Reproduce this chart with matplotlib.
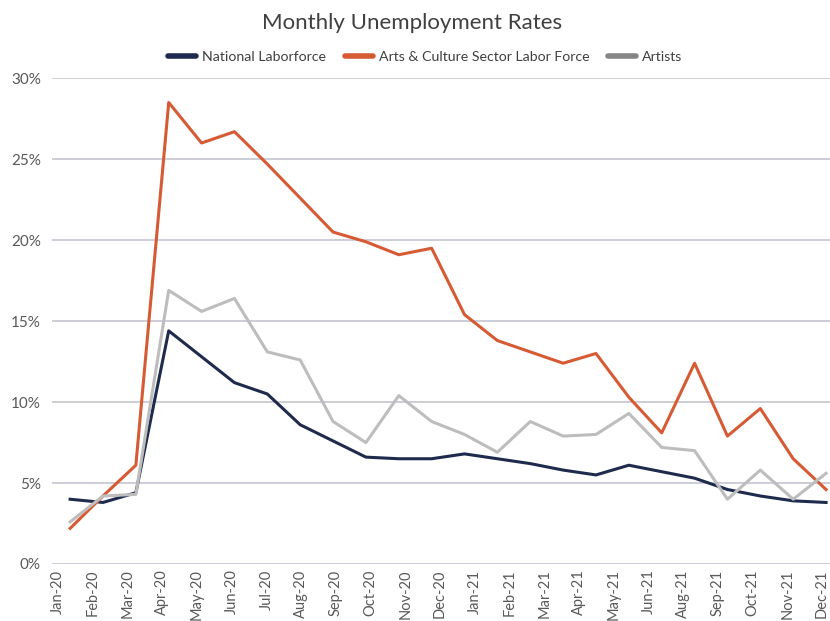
import numpy as np
import matplotlib.pyplot as plt
from matplotlib.lines import Line2D
from matplotlib.ticker import PercentFormatter

plt.rcParams['font.family'] = ['Lato', 'DejaVu Sans']

# monthly rates, Jan-20 .. Dec-21 (percent)
national = [4.0, 3.8, 4.4, 14.4, 12.8, 11.2, 10.5, 8.6, 7.6, 6.6, 6.5, 6.5,
            6.8, 6.5, 6.2, 5.8, 5.5, 6.1, 5.7, 5.3, 4.6, 4.2, 3.9, 3.8]
arts_culture = [2.2, 4.2, 6.1, 28.5, 26.0, 26.7, 24.7, 22.6, 20.5, 19.9, 19.1, 19.5,
                15.4, 13.8, 13.1, 12.4, 13.0, 10.3, 8.1, 12.4, 7.9, 9.6, 6.5, 4.6]
artists = [2.6, 4.2, 4.3, 16.9, 15.6, 16.4, 13.1, 12.6, 8.8, 7.5, 10.4, 8.8,
           8.0, 6.9, 8.8, 7.9, 8.0, 9.3, 7.2, 7.0, 4.0, 5.8, 4.0, 5.6]
month_labels = ['Jan-20', 'Feb-20', 'Mar-20', 'Apr-20', 'May-20', 'Jun-20',
                'Jul-20', 'Aug-20', 'Sep-20', 'Oct-20', 'Nov-20', 'Dec-20',
                'Jan-21', 'Feb-21', 'Mar-21', 'Apr-21', 'May-21', 'Jun-21',
                'Aug-21', 'Sep-21', 'Oct-21', 'Nov-21', 'Dec-21']

series_names = ['National Laborforce', 'Arts & Culture Sector Labor Force', 'Artists']
line_colors = ['#1f2b4d', '#d65a34', '#bdbdbd']
legend_colors = ['#1f2b4d', '#d65a34', '#858585']

fig = plt.figure(figsize=(8.3, 6.21), dpi=100)
ax = fig.add_axes([0.0627, 0.0918, 0.9373, 0.7822])

x = np.arange(len(national))
for values, color in zip([national, arts_culture, artists], line_colors):
    ax.plot(x, np.array(values) / 100, color=color, linewidth=2.2, zorder=3)

ax.set_xlim(-0.55, 23.12)
ax.set_ylim(0, 0.30)
ax.set_yticks(np.arange(0, 0.31, 0.05))
ax.yaxis.set_major_formatter(PercentFormatter(1.0, decimals=0))
ax.grid(axis='y', color='#c9c9d6', linewidth=1.3, zorder=0)

# the 23 category labels are spread evenly along the axis
label_pos = np.linspace(-0.365, 22.88, len(month_labels))
ax.set_xticks(label_pos)
ax.set_xticklabels(month_labels, rotation=90, ha='center', va='top')

for s in ax.spines.values():
    s.set_visible(False)
ax.tick_params(length=0, labelcolor='#595959')
ax.tick_params(axis='y', pad=8, labelsize=11)
ax.tick_params(axis='x', pad=4, labelsize=10.5)

fig.text(0.497, 0.963, 'Monthly Unemployment Rates', ha='center', va='center',
         fontsize=16, color='#404040')

handles = [Line2D([], [], color=c, linewidth=4, solid_capstyle='round') for c in legend_colors]
fig.legend(handles, series_names, loc='center', bbox_to_anchor=(0.512, 0.909), ncol=3,
           frameon=False, fontsize=10.2, handlelength=2.0, handletextpad=0.4,
           columnspacing=1.3, labelcolor='#404040')

fig.savefig('out.png', dpi=100)
